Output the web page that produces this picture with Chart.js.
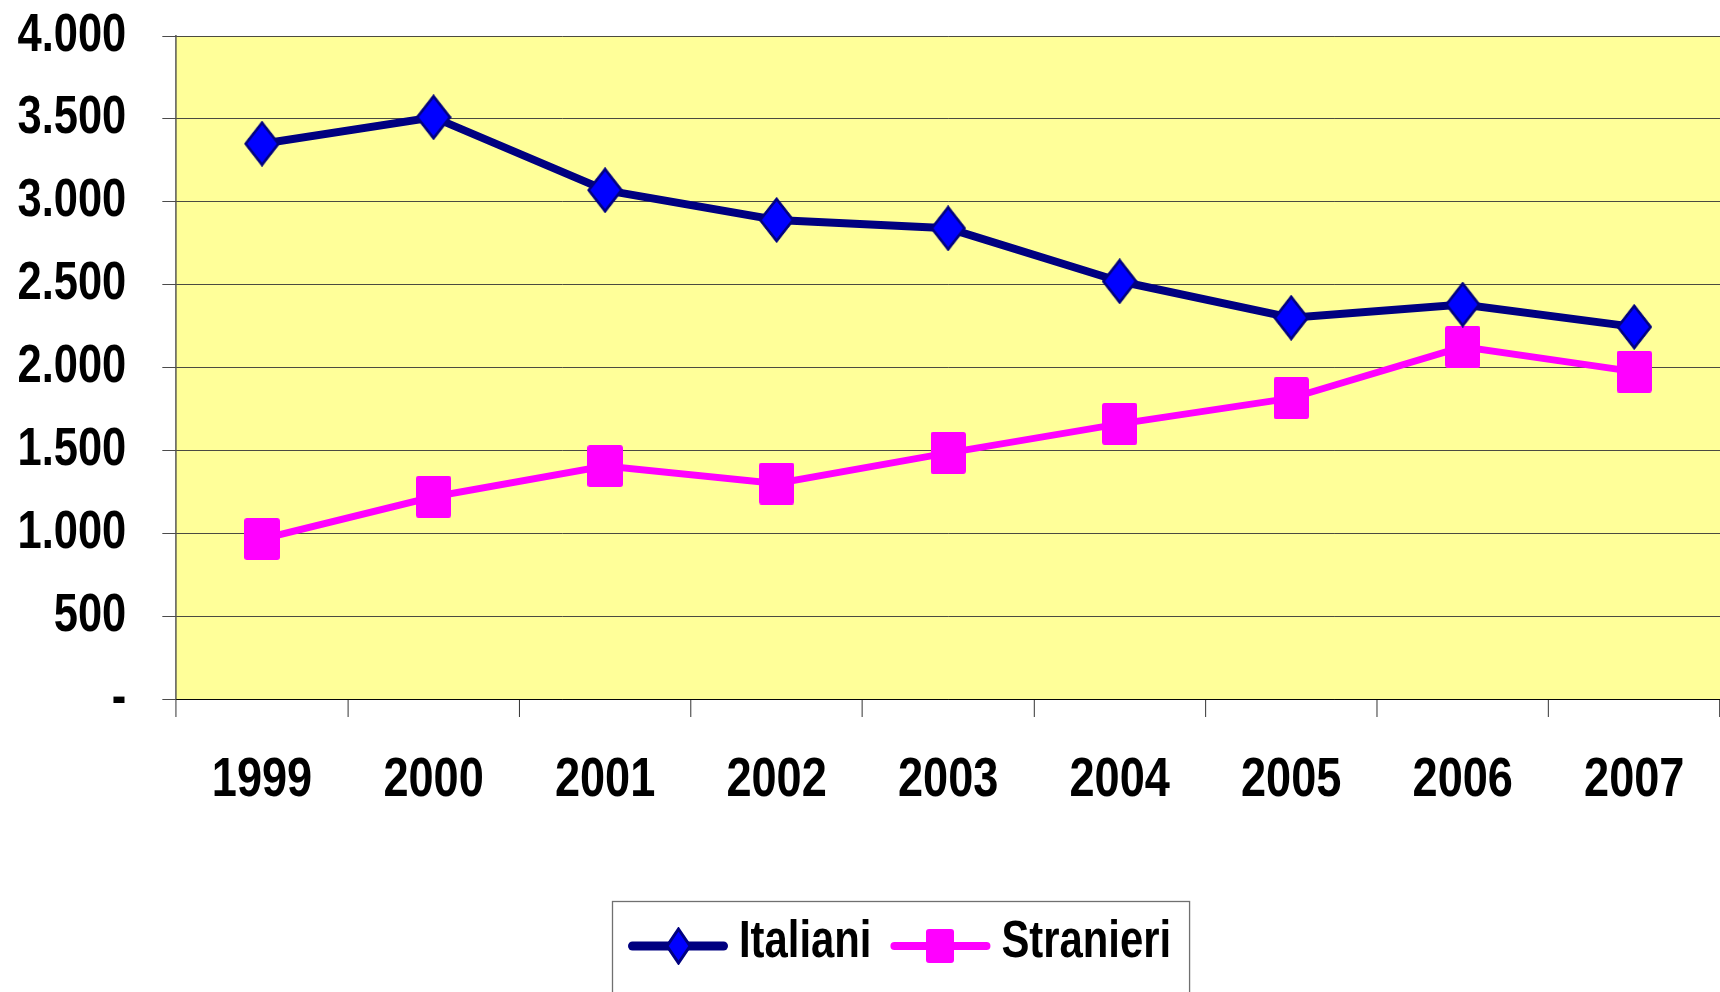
<!DOCTYPE html>
<html>
<head>
<meta charset="utf-8">
<script src="https://cdn.jsdelivr.net/npm/chart.js@4.4.1/dist/chart.umd.min.js"></script>
<style>
  html, body { margin: 0; padding: 0; background: #ffffff; overflow: hidden; }
  #wrap { width: 1720px; height: 992px; overflow: hidden; }
  canvas { display: block; }
</style>
</head>
<body>
<div id="wrap"><canvas id="c" width="2098" height="992"></canvas></div>
<script>
// ---- data ----
const years = ['1999', '2000', '2001', '2002', '2003', '2004', '2005', '2006', '2007'];
const italiani = [3350, 3510, 3070, 2890, 2840, 2520, 2300, 2380, 2245];
const stranieri = [965, 1220, 1405, 1300, 1485, 1660, 1815, 2125, 1975];
const seriesNames = ['Italiani', 'Stranieri'];
const yTickLabels = ['-', '500', '1.000', '1.500', '2.000', '2.500', '3.000', '3.500', '4.000'];

// ---- styling (the original chart is horizontally condensed; we lay out at a
// wider internal width and draw compressed horizontally by SX) ----
const OUT_W = 1720, OUT_H = 992, IN_W = 2098;
const SX = OUT_W / IN_W;
const FONT = "'Liberation Sans', Arial, sans-serif";
const NAVY = '#000080', BLUE = '#0000FF', MAGENTA = '#FF00FF';

function diamondCanvas(w, h, lw) {
  const c = document.createElement('canvas');
  c.width = w; c.height = h;
  const g = c.getContext('2d');
  const p = lw / 2 + 0.5;
  g.beginPath();
  g.moveTo(w / 2, p); g.lineTo(w - p, h / 2); g.lineTo(w / 2, h - p); g.lineTo(p, h / 2); g.closePath();
  g.fillStyle = BLUE; g.fill();
  g.lineWidth = lw; g.lineJoin = 'miter'; g.strokeStyle = NAVY; g.stroke();
  return c;
}
function squareCanvas(w, h) {
  const c = document.createElement('canvas');
  c.width = w; c.height = h;
  const g = c.getContext('2d');
  const r = 3;
  g.beginPath();
  g.moveTo(r, 0); g.lineTo(w - r, 0); g.quadraticCurveTo(w, 0, w, r);
  g.lineTo(w, h - r); g.quadraticCurveTo(w, h, w - r, h);
  g.lineTo(r, h); g.quadraticCurveTo(0, h, 0, h - r);
  g.lineTo(0, r); g.quadraticCurveTo(0, 0, r, 0); g.closePath();
  g.fillStyle = MAGENTA; g.fill();
  return c;
}

// markers (internal size; compressed horizontally on output)
const diamond = diamondCanvas(44, 46, 3);
const square = squareCanvas(43, 42);
// legend markers (output pixel size)
const legendMarkers = [diamondCanvas(27, 38, 3), squareCanvas(28, 34)];

const plotBg = {
  id: 'plotBg',
  beforeDraw(chart) {
    const a = chart.chartArea, ctx = chart.ctx;
    ctx.save();
    ctx.fillStyle = '#FFFF99';
    ctx.fillRect(a.left, a.top, a.right - a.left, a.bottom - a.top);
    ctx.restore();
  }
};

// Legend drawn in output pixels, with the same condensed bold font as the axes.
const LEG = { fs: 51, kx: SX, lineLen: 100, gapText: 11, gapItem: 19, textY: 943, symY: 946,
              padL: 16, padR: 18, top: 901, shift: 40 };
const condensedLegend = {
  id: 'condensedLegend',
  afterDraw(chart) {
    const ctx = chart.ctx;
    ctx.save();
    ctx.setTransform(1, 0, 0, 1, 0, 0);
    ctx.font = `bold ${LEG.fs}px ${FONT}`;
    const items = chart.data.datasets.map((ds, i) => ({
      text: ds.label, color: ds.borderColor, lw: ds.borderWidth + 1, marker: legendMarkers[i],
      tw: ctx.measureText(ds.label).width * LEG.kx
    }));
    let total = 0;
    items.forEach((it, i) => { total += LEG.lineLen + LEG.gapText + it.tw + (i ? LEG.gapItem : 0); });
    let x = Math.round(OUT_W / 2 + LEG.shift - total / 2);
    const boxLeft = x - LEG.padL;
    items.forEach((it, i) => {
      if (i) x += LEG.gapItem;
      ctx.strokeStyle = it.color; ctx.lineWidth = it.lw; ctx.lineCap = 'round';
      ctx.beginPath();
      ctx.moveTo(x + it.lw / 2, LEG.symY); ctx.lineTo(x + LEG.lineLen - it.lw / 2, LEG.symY);
      ctx.stroke();
      ctx.drawImage(it.marker, Math.round(x + LEG.lineLen / 2 - it.marker.width / 2), Math.round(LEG.symY - it.marker.height / 2));
      x += LEG.lineLen + LEG.gapText;
      ctx.save();
      ctx.translate(x, LEG.textY);
      ctx.scale(LEG.kx, 1);
      ctx.fillStyle = '#000000';
      ctx.textAlign = 'left';
      ctx.textBaseline = 'middle';
      ctx.fillText(it.text, 0, 0);
      ctx.restore();
      x += it.tw;
    });
    const boxRight = x + LEG.padR;
    ctx.strokeStyle = '#707070';
    ctx.lineWidth = 1.3;
    ctx.strokeRect(boxLeft + 0.5, LEG.top + 0.5, boxRight - boxLeft, 200);
    ctx.restore();
  }
};

const chart = new Chart(document.getElementById('c'), {
  type: 'line',
  data: {
    labels: years,
    datasets: [
      {
        label: seriesNames[0], data: italiani,
        borderColor: NAVY, borderWidth: 8, backgroundColor: BLUE,
        pointStyle: diamond, pointRadius: 22, pointHoverRadius: 22,
        tension: 0, fill: false
      },
      {
        label: seriesNames[1], data: stranieri,
        borderColor: MAGENTA, borderWidth: 7, backgroundColor: MAGENTA,
        pointStyle: square, pointRadius: 22, pointHoverRadius: 22,
        tension: 0, fill: false
      }
    ]
  },
  options: {
    responsive: false,
    animation: false,
    events: [],
    layout: { autoPadding: false, padding: { top: 36, left: 0, right: 0, bottom: 113 } },
    plugins: {
      tooltip: { enabled: false },
      title: { display: false },
      legend: { display: false }
    },
    scales: {
      x: {
        offset: true,
        grid: {
          display: true, offset: true, drawOnChartArea: false, drawTicks: true,
          tickLength: 18, color: '#303030', lineWidth: 1.2
        },
        border: { display: true, color: '#000000', width: 1 },
        ticks: {
          color: '#000000', padding: 31, maxRotation: 0, autoSkip: false,
          font: { family: FONT, size: 55, weight: 'bold' }
        },
        afterFit(scale) { scale.height = 180; scale.paddingLeft = 0; scale.paddingRight = 0; }
      },
      y: {
        min: 0, max: 4000,
        grid: {
          display: true, drawOnChartArea: true, drawTicks: true,
          tickLength: 17, color: '#383838', lineWidth: 1
        },
        border: { display: true, color: '#000000', width: 1.2 },
        ticks: {
          stepSize: 500, color: '#000000', padding: 44,
          font: { family: FONT, size: 53, weight: 'bold' },
          callback: (v, i) => yTickLabels[i]
        },
        afterFit(scale) { scale.width = 215; scale.paddingTop = 0; scale.paddingBottom = 0; }
      }
    }
  },
  plugins: [plotBg, condensedLegend]
});

// Re-render condensed horizontally: same Chart.js drawing, horizontal scale SX.
const cv = chart.canvas;
cv.width = OUT_W;
cv.height = OUT_H;
cv.style.width = OUT_W + 'px';
cv.style.height = OUT_H + 'px';
chart.ctx.setTransform(SX, 0, 0, 1, 0, 0);
chart.draw();
</script>
</body>
</html>
